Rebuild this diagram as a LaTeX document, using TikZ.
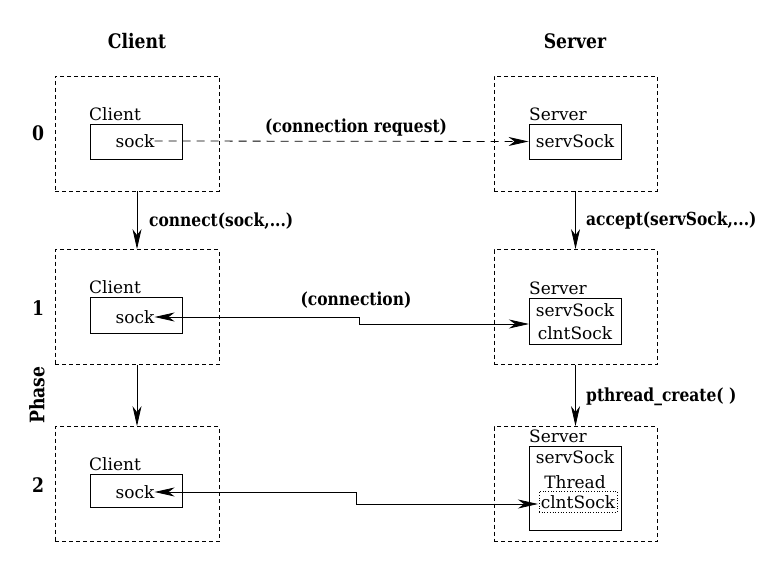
\documentclass[tikz,border=0pt]{standalone}
\usepackage{fontspec}
\usepackage{graphicx}
\setmainfont{DejaVu Serif}
\usetikzlibrary{arrows.meta}
\newcommand\narrowtxt[1]{\scalebox{0.86}[1]{#1}}
\begin{document}
\begin{tikzpicture}[x=1pt,y=-1pt,
 outer/.style={draw,dash pattern=on 4pt off 3pt,minimum width=164pt,minimum height=115pt,inner sep=0pt,line width=0.8pt},
 innerbox/.style={draw,line width=0.9pt,inner sep=0pt,minimum width=92pt},
 lbl/.style={font=\fontsize{17}{17}\selectfont,inner sep=0pt},
 blbl/.style={font=\fontsize{18}{18}\selectfont\bfseries,inner sep=0pt},
 hdr/.style={font=\fontsize{20}{20}\selectfont\bfseries,inner sep=0pt},
 arr/.style={-{Stealth[length=20pt,width=9pt,inset=6pt]},line width=0.8pt},
 arrboth/.style={{Stealth[length=20pt,width=9pt,inset=6pt]}-{Stealth[length=20pt,width=9pt,inset=6pt]},line width=0.8pt},
]
\useasboundingbox (0,0) rectangle (770,564);

% headers
\node[hdr] (hc) at (137,41) {\narrowtxt{Client}};
\node[hdr] (hs) at (575,41) {\narrowtxt{Server}};

% phase labels
\node[hdr] (p0) at (38,133) {\narrowtxt{0}};
\node[hdr] (p1) at (38,308) {\narrowtxt{1}};
\node[hdr] (p2) at (38,485) {\narrowtxt{2}};
\node[hdr,rotate=90] (ph) at (37,395) {\narrowtxt{Phase}};

% outer dashed boxes
\node[outer] (c0) at (137,133.5) {};
\node[outer] (c1) at (137,307) {};
\node[outer] (c2) at (137,484) {};
\node[outer,minimum width=163pt] (v0) at (575.5,133.5) {};
\node[outer,minimum width=163pt] (v1) at (575.5,307) {};
\node[outer,minimum width=163pt] (v2) at (575.5,484) {};

% client inner boxes
\node[innerbox,minimum height=35pt] (ci0) at (136,141.5) {};
\node[innerbox,minimum height=36pt] (ci1) at (136,315) {};
\node[innerbox,minimum height=33pt] (ci2) at (136,490.5) {};
\node[lbl,anchor=base west] (cl0) at (89,121) {Client};
\node[lbl,anchor=base west] (cl1) at (89,293) {Client};
\node[lbl,anchor=base west] (cl2) at (89,470) {Client};
\node[lbl] (s0) at (135,141) {sock};
\node[lbl] (s1) at (135,317) {sock};
\node[lbl] (s2) at (135,492) {sock};

% server inner boxes
\node[innerbox,minimum height=35pt] (si0) at (575,141.5) {};
\node[innerbox,minimum height=46pt] (si1) at (575,321) {};
\node[innerbox,minimum height=84pt] (si2) at (575,488) {};
\node[lbl,anchor=base west] (sl0) at (529,121) {Server};
\node[lbl,anchor=base west] (sl1) at (529,294) {Server};
\node[lbl,anchor=base west] (sl2) at (529,442) {Server};
\node[lbl] (ss0) at (575,141) {servSock};
\node[lbl,anchor=base] (ss1) at (575,316) {servSock};
\node[lbl,anchor=base] (cs1) at (575,339) {clntSock};
\node[lbl,anchor=base] (ss2) at (575,463) {servSock};
\node[lbl,anchor=base] (th2) at (575,488) {Thread};
\node[lbl,anchor=base] (cs2t) at (578,508) {clntSock};
\node[draw,dotted,line width=0.7pt,minimum width=78pt,minimum height=21pt,inner sep=0pt] (cs2) at (578,501.5) {};

% vertical arrows
\draw[arr] (c0.south) -- (c1.north);
\draw[arr] (c1.south) -- (c2.north);
\draw[arr] (v0.south) -- (v1.north);
\draw[arr] (v1.south) -- (v2.north);
\node[blbl,anchor=west] (lconn) at (149,221) {\narrowtxt{connect(sock,...)}};
\node[blbl,anchor=west] (lacc) at (586,221) {\narrowtxt{accept(servSock,...)}};
\node[blbl,anchor=west] (lpth) at (586,397) {\narrowtxt{pthread\_create( )}};

% connection request
\draw[arr,dash pattern=on 8pt off 6pt] (s0.east) -- (si0.west);
\node[blbl] (lreq) at (356,128) {\narrowtxt{(connection request)}};

% connection (phase 1)
\coordinate (m1) at (359,324);
\coordinate (t1) at (529,324);
\draw[arrboth] (s1.east) -| (m1) -- (t1);
\node[blbl] (lcon) at (356,300) {\narrowtxt{(connection)}};

% phase 2
\coordinate (m2) at (356,504);
\coordinate (t2) at (538,504);
\draw[arrboth] (s2.east) -| (m2) -- (t2);
\end{tikzpicture}
\end{document}
